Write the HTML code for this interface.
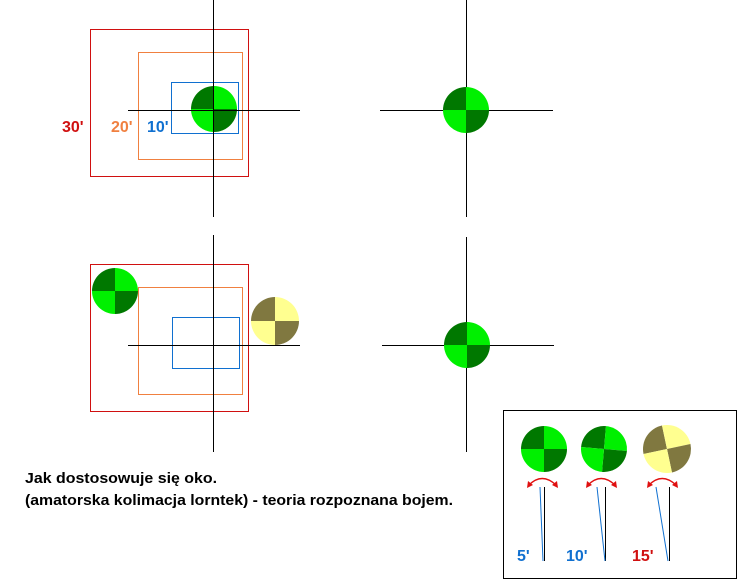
<!DOCTYPE html>
<html><head><style>body{margin:0;background:#fff}svg{display:block}</style></head><body>
<svg width="741" height="581" xmlns="http://www.w3.org/2000/svg" font-family="Liberation Sans, Arial, sans-serif">
<defs>
<g id="g"><path d="M0 0 L-23 0 A23 23 0 0 1 0 -23Z" fill="#007800"/><path d="M0 0 L0 -23 A23 23 0 0 1 23 0Z" fill="#00f000"/><path d="M0 0 L23 0 A23 23 0 0 1 0 23Z" fill="#007800"/><path d="M0 0 L0 23 A23 23 0 0 1 -23 0Z" fill="#00f000"/></g>
<g id="y"><path d="M0 0 L-24 0 A24 24 0 0 1 0 -24Z" fill="#807840"/><path d="M0 0 L0 -24 A24 24 0 0 1 24 0Z" fill="#ffff90"/><path d="M0 0 L24 0 A24 24 0 0 1 0 24Z" fill="#807840"/><path d="M0 0 L0 24 A24 24 0 0 1 -24 0Z" fill="#ffff90"/></g>
</defs>
<g fill="none" stroke-width="1">
<rect x="90.5" y="29.5" width="158" height="147" stroke="#d01010"/>
<rect x="138.5" y="52.5" width="104" height="107" stroke="#f08040"/>
<rect x="171.5" y="82.5" width="67" height="51" stroke="#1070d0"/>
<rect x="90.5" y="264.5" width="158" height="147" stroke="#d01010"/>
<rect x="138.5" y="287.5" width="104" height="107" stroke="#f08040"/>
<rect x="172.5" y="317.5" width="67" height="51" stroke="#1070d0"/>
<rect x="503.5" y="410.5" width="233" height="168" stroke="#000"/>
</g>
<use href="#g" x="214" y="109"/>
<g stroke="#000"><line x1="213.5" y1="0" x2="213.5" y2="217"/><line x1="128" y1="110.5" x2="300" y2="110.5"/>
<line x1="466.5" y1="0" x2="466.5" y2="217"/><line x1="380" y1="110.5" x2="553" y2="110.5"/>
<line x1="213.5" y1="235" x2="213.5" y2="452"/><line x1="128" y1="345.5" x2="300" y2="345.5"/>
<line x1="466.5" y1="237" x2="466.5" y2="452"/><line x1="382" y1="345.5" x2="554" y2="345.5"/></g>
<use href="#g" x="466" y="110"/>
<use href="#g" x="115" y="291"/>
<use href="#y" x="275" y="321"/>
<use href="#g" x="467" y="345"/>
<use href="#g" x="544" y="449"/>
<use href="#g" x="604" y="449" transform="rotate(5 604 449)"/>
<use href="#y" x="667" y="449" transform="rotate(-12 667 449)" />
<g font-weight="bold" font-size="16">
<text x="62" y="132" fill="#d01010">30'</text>
<text x="111" y="132" fill="#f08040">20'</text>
<text x="147" y="132" fill="#1070d0">10'</text>
<text x="517" y="561" fill="#1070d0">5'</text>
<text x="566" y="561" fill="#1070d0">10'</text>
<text x="632" y="561" fill="#d01010">15'</text>
</g>
<g stroke="#000"><line x1="544.5" y1="487" x2="544.5" y2="561"/><line x1="605.5" y1="487" x2="605.5" y2="561"/><line x1="669.5" y1="487" x2="669.5" y2="561"/></g>
<g stroke="#1070d0"><line x1="540" y1="487" x2="543" y2="561"/><line x1="597" y1="487" x2="605" y2="561"/><line x1="656" y1="487" x2="668" y2="561"/></g>
<g stroke="#e01010" fill="none" stroke-width="1.5">
<path d="M529 485 Q542 472 556 485"/><path d="M588 485 Q601 472 615 485"/><path d="M649 485 Q662 472 676 485"/>
</g>
<g fill="#e01010">
<path d="M527 488 l1 -7 l5 4z"/><path d="M558 488 l-1 -7 l-5 4z"/>
<path d="M586 488 l1 -7 l5 4z"/><path d="M617 488 l-1 -7 l-5 4z"/>
<path d="M647 488 l1 -7 l5 4z"/><path d="M678 488 l-1 -7 l-5 4z"/>
</g>
<g font-weight="bold" font-size="15" fill="#000">
<text x="25" y="483" textLength="192" lengthAdjust="spacingAndGlyphs">Jak dostosowuje się oko.</text>
<text x="25" y="505" textLength="428" lengthAdjust="spacingAndGlyphs">(amatorska kolimacja lorntek) - teoria rozpoznana bojem.</text>
</g>
</svg>
</body></html>
